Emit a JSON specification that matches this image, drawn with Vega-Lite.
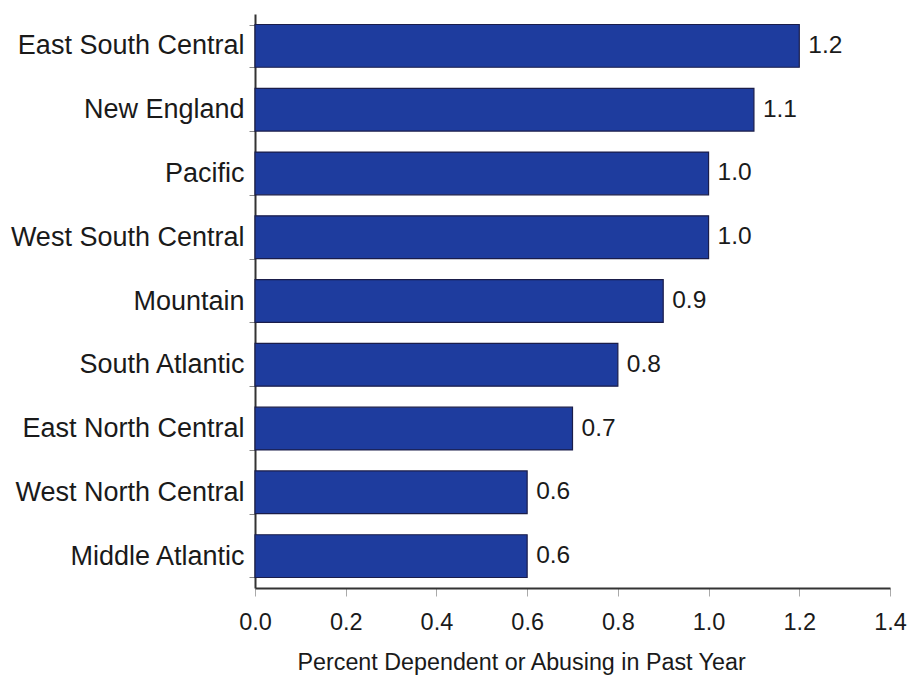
{
  "$schema": "https://vega.github.io/schema/vega-lite/v6.json",
  "width": 635,
  "height": 574,
  "autosize": {"type": "none"},
  "padding": {"left": 255, "top": 14, "right": 21, "bottom": 94},
  "background": "white",
  "config": {
    "view": {"stroke": null},
    "font": "Liberation Sans"
  },
  "data": {
    "values": [
      {"region": "East South Central", "pct": 1.2},
      {"region": "New England", "pct": 1.1},
      {"region": "Pacific", "pct": 1.0},
      {"region": "West South Central", "pct": 1.0},
      {"region": "Mountain", "pct": 0.9},
      {"region": "South Atlantic", "pct": 0.8},
      {"region": "East North Central", "pct": 0.7},
      {"region": "West North Central", "pct": 0.6},
      {"region": "Middle Atlantic", "pct": 0.6}
    ]
  },
  "encoding": {
    "y": {
      "field": "region",
      "type": "nominal",
      "sort": null,
      "scale": {"paddingInner": 0.33, "paddingOuter": 0.165},
      "axis": {
        "title": null,
        "tickBand": "extent",
        "tickSize": 6,
        "tickColor": "#888888",
        "domainColor": "#333333",
        "domainWidth": 2,
        "labelFontSize": 27,
        "labelColor": "#1a1a1a",
        "labelPadding": 5,
        "labelLimit": 300
      }
    },
    "x": {
      "field": "pct",
      "type": "quantitative",
      "scale": {"domain": [0, 1.4], "nice": false},
      "axis": {
        "title": "Percent Dependent or Abusing in Past Year",
        "titleFontSize": 23.3,
        "titleFontWeight": "normal",
        "titleColor": "#1a1a1a",
        "titleAnchor": "start",
        "titleAlign": "left",
        "titleX": 42,
        "titlePadding": 18,
        "values": [0, 0.2, 0.4, 0.6, 0.8, 1.0, 1.2, 1.4],
        "format": ".1f",
        "grid": false,
        "tickSize": 8,
        "tickColor": "#aaaaaa",
        "domainColor": "#333333",
        "domainWidth": 2,
        "labelFontSize": 23.5,
        "labelColor": "#1a1a1a",
        "labelPadding": 14,
        "labelFlush": false,
        "labelOverlap": false
      }
    }
  },
  "layer": [
    {
      "mark": {"type": "bar", "color": "#1e3c9e", "stroke": "#1a1d4a", "strokeWidth": 1.2}
    },
    {
      "mark": {"type": "text", "align": "left", "baseline": "middle", "dx": 9, "fontSize": 24.5, "color": "#1a1a1a"},
      "encoding": {
        "text": {"field": "pct", "type": "quantitative", "format": ".1f"}
      }
    }
  ]
}
